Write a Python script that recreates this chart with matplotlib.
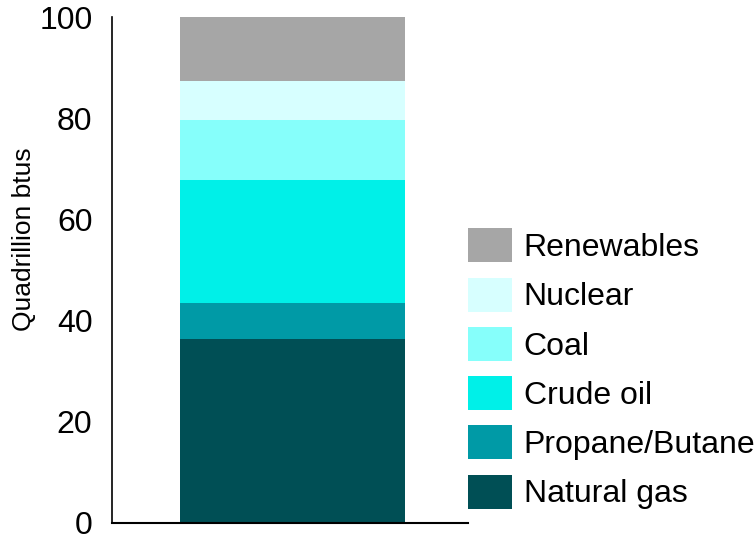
import matplotlib
matplotlib.use('Agg')
import matplotlib.pyplot as plt

plt.rcParams['font.family'] = ['Liberation Sans', 'DejaVu Sans']

# energy mix, bottom to top
sources = ['Natural gas', 'Propane/Butane', 'Crude oil', 'Coal', 'Nuclear', 'Renewables']
values = [36.3, 7.1, 24.4, 11.8, 7.7, 12.7]
colors = ['#004F55', '#009AA6', '#00F0E8', '#86FFFB', '#D7FFFF', '#A6A6A6']
yticks = [0, 20, 40, 60, 80, 100]

fig = plt.figure(figsize=(7.56, 5.4), dpi=100)
ax = fig.add_axes([0.148, 0.0315, 0.471, 0.937])

bottom = 0
handles = []
for name, v, c in zip(sources, values, colors):
    b = ax.bar(0, v, bottom=bottom, width=1.01, color=c, label=name)
    handles.append(b)
    bottom += v

ax.set_xlim(-0.81, 0.79)
ax.set_ylim(0, 100)
ax.set_yticks(yticks)
ax.set_xticks([])
ax.tick_params(axis='y', length=0, labelsize=23, pad=14)
ax.set_ylabel('Quadrillion btus', fontsize=19)
ax.yaxis.set_label_coords(-0.213, 0.561)
for s in ['top', 'right']:
    ax.spines[s].set_visible(False)
ax.spines['left'].set_linewidth(1.2)
ax.spines['bottom'].set_linewidth(1.5)

fig.legend(handles[::-1], sources[::-1], loc='upper left',
           bbox_to_anchor=(0.619, 0.577), frameon=False, fontsize=23,
           handlelength=1.38, handleheight=1.26, labelspacing=0.455,
           handletextpad=0.37, borderpad=0, borderaxespad=0)

fig.savefig('out.png', dpi=100)
